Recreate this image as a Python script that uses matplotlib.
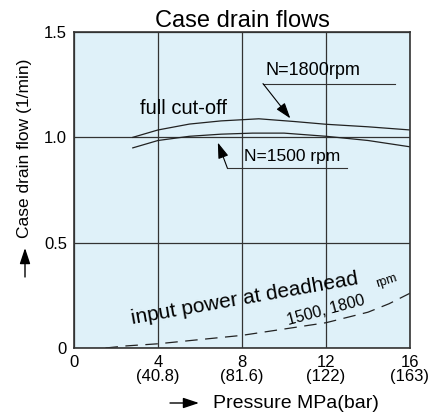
import numpy as np
import matplotlib.pyplot as plt

plt.rcParams['font.family'] = ['Liberation Sans', 'DejaVu Sans']

p_1800 = [2.8, 4.0, 5.5, 7.0, 8.8, 10.5, 12.0, 14.0, 16.0]
q_1800 = [1.00, 1.035, 1.063, 1.078, 1.088, 1.075, 1.062, 1.05, 1.035]
p_1500 = [2.8, 4.0, 5.5, 7.0, 8.5, 10.0, 12.0, 14.0, 16.0]
q_1500 = [0.95, 0.985, 1.005, 1.015, 1.02, 1.02, 1.005, 0.985, 0.955]
p_dead = [1.5, 2.5, 4.0, 6.0, 8.0, 10.0, 12.0, 14.0, 15.0, 16.0]
q_dead = [0.0, 0.01, 0.02, 0.04, 0.06, 0.09, 0.12, 0.17, 0.21, 0.26]

xticks = [0, 4, 8, 12, 16]
xlabels = ['0', '4\n(40.8)', '8\n(81.6)', '12\n(122)', '16\n(163)']
yticks = [0, 0.5, 1.0, 1.5]
ylabels = ['0', '0.5', '1.0', '1.5']

arrow = '-|>,head_length=0.6,head_width=0.2'

fig = plt.figure(figsize=(4.35, 4.18), dpi=100)
ax = fig.add_axes([74/435, 1-348/418, 336/435, 316/418])
ax.set_facecolor('#dff1f9')

ax.plot(p_1800, q_1800, color='#222222', lw=0.9)
ax.plot(p_1500, q_1500, color='#222222', lw=0.9)
ax.plot(p_dead, q_dead, color='#222222', lw=0.9, dashes=(10, 6))

ax.set_xlim(0, 16)
ax.set_ylim(0, 1.5)
ax.set_xticks(xticks)
ax.set_xticklabels(xlabels, fontsize=12, linespacing=0.9)
ax.set_yticks(yticks)
ax.set_yticklabels(ylabels, fontsize=12)
ax.tick_params(length=0, pad=5)
ax.get_xticklabels()[0].set_verticalalignment('top')
ax.grid(True, color='#333333', lw=0.9)
for s in ax.spines.values():
    s.set_color('#333333')
    s.set_linewidth(1.2)

ax.set_title('Case drain flows', fontsize=17, pad=1)

# annotations
ax.text(3.15, 1.135, 'full cut-off', fontsize=14.5, va='center')
ax.text(9.1, 1.275, 'N=1800rpm', fontsize=13, va='bottom')
ax.plot([9.0, 15.3], [1.255, 1.255], color='#333333', lw=0.8)
ax.annotate('', xy=(10.3, 1.09), xytext=(9.0, 1.255),
            arrowprops=dict(arrowstyle=arrow, color='black', lw=0.8,
                            mutation_scale=16, shrinkA=0, shrinkB=0))
ax.text(8.1, 0.875, 'N=1500 rpm', fontsize=12.5, va='bottom')
ax.plot([7.3, 13.0], [0.855, 0.855], color='#333333', lw=0.8)
ax.annotate('', xy=(6.85, 0.975), xytext=(7.3, 0.855),
            arrowprops=dict(arrowstyle=arrow, color='black', lw=0.8,
                            mutation_scale=16, shrinkA=0, shrinkB=0))
ax.text(2.8, 0.114, 'input power at deadhead', fontsize=15, rotation=10,
        rotation_mode='anchor')
ax.text(10.2, 0.109, '1500, 1800', fontsize=11.5, rotation=15,
        rotation_mode='anchor')
ax.text(14.45, 0.29, 'rpm', fontsize=9, rotation=18,
        rotation_mode='anchor')

# axis labels with arrows
fig.text(25/435, 1-148/418, 'Case drain flow (1/min)', rotation=90,
         fontsize=12.5, ha='center', va='center')
fig.text(213/435, 1-403/418, 'Pressure MPa(bar)', fontsize=14,
         ha='left', va='center')
ax.annotate('', xy=(25/435, 1-248/418), xytext=(25/435, 1-277/418),
            xycoords='figure fraction', textcoords='figure fraction',
            arrowprops=dict(arrowstyle=arrow, color='black', lw=1.0,
                            mutation_scale=16, shrinkA=0, shrinkB=0))
ax.annotate('', xy=(199/435, 1-403/418), xytext=(170/435, 1-403/418),
            xycoords='figure fraction', textcoords='figure fraction',
            arrowprops=dict(arrowstyle=arrow, color='black', lw=1.0,
                            mutation_scale=16, shrinkA=0, shrinkB=0))

fig.savefig('out.png', dpi=100)
